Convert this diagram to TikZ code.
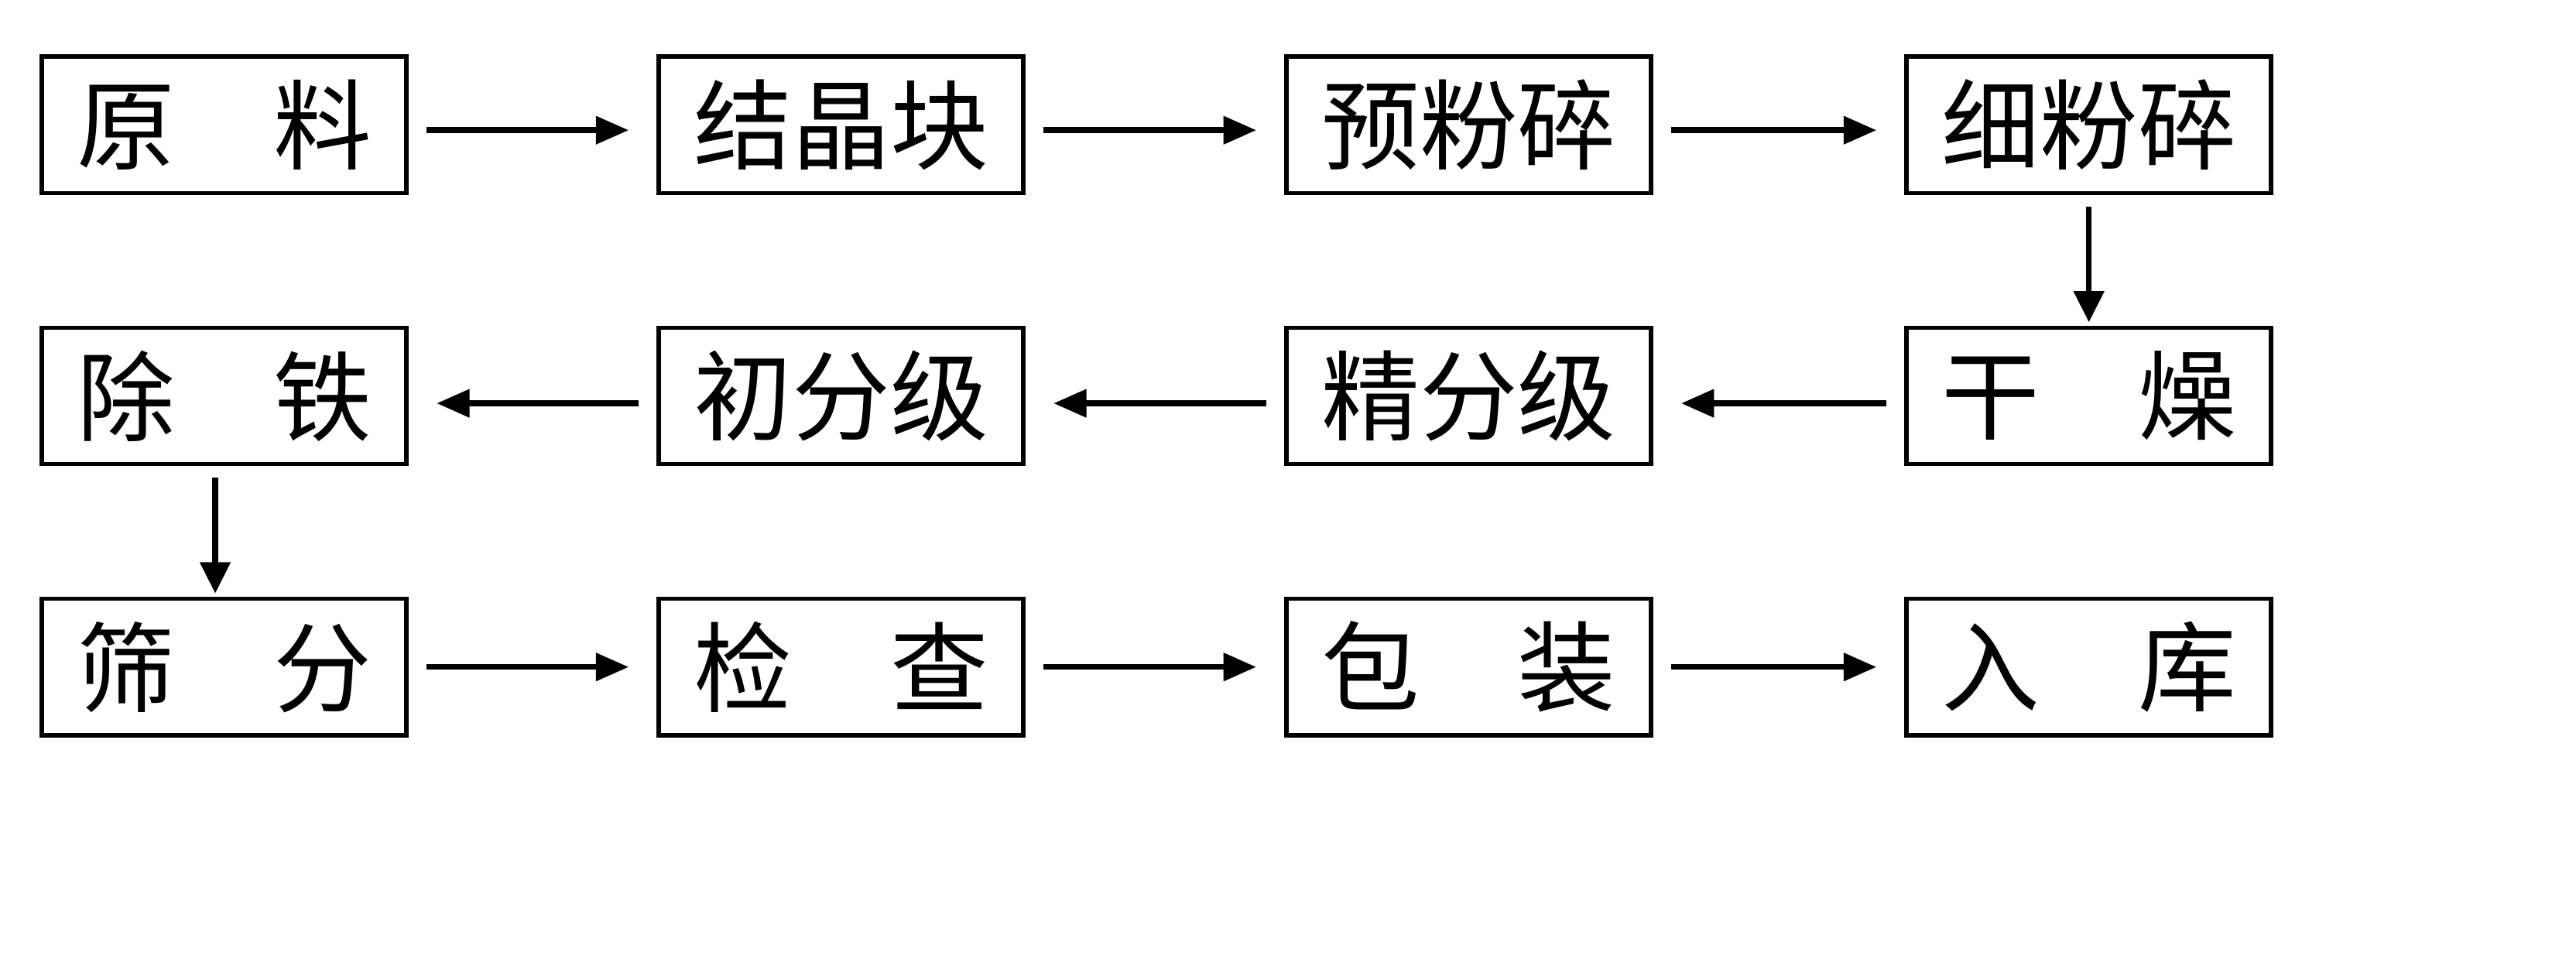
\documentclass[tikz,border=0pt]{standalone}
\usepackage{fontspec}
\newfontfamily\cjk{Noto Sans CJK SC}
\usetikzlibrary{arrows.meta}
\begin{document}
\begin{tikzpicture}[x=0.02cm,y=-0.02cm,
  stepbox/.style={draw=black, line width=1.5pt, minimum width=4.44cm, minimum height=1.66cm,
    inner sep=0pt, font=\cjk\fontsize{34}{40}\selectfont, fill=white},
  harr/.style={line width=2pt, -{Triangle[length=0.4cm,width=0.33cm]}, shorten <=0.22cm, shorten >=0.34cm},
  varr/.style={line width=2pt, -{Triangle[length=0.38cm,width=0.36cm]}, shorten <=0.14cm, shorten >=0.04cm}]
\useasboundingbox[fill=white] (0,0) rectangle (1568,588);
% row 1
\node[stepbox] (a1) at (136.5,76) {原\hspace{1em}料};
\node[stepbox] (a2) at (512,76) {结晶块};
\node[stepbox] (a3) at (894,76) {预粉碎};
\node[stepbox] (a4) at (1271.5,76) {细粉碎};
% row 2
\node[stepbox] (b1) at (136.5,241) {除\hspace{1em}铁};
\node[stepbox] (b2) at (512,241) {初分级};
\node[stepbox] (b3) at (894,241) {精分级};
\node[stepbox] (b4) at (1271.5,241) {干\hspace{1em}燥};
% row 3
\node[stepbox] (c1) at (136.5,406) {筛\hspace{1em}分};
\node[stepbox] (c2) at (512,406) {检\hspace{1em}查};
\node[stepbox] (c3) at (894,406) {包\hspace{1em}装};
\node[stepbox] (c4) at (1271.5,406) {入\hspace{1em}库};
% connectors
\draw[harr, transform canvas={yshift=-0.065cm}] (a1) -- (a2);
\draw[harr, transform canvas={yshift=-0.065cm}] (a2) -- (a3);
\draw[harr, transform canvas={yshift=-0.065cm}] (a3) -- (a4);
\draw[varr] (a4) -- (b4);
\draw[harr, transform canvas={yshift=-0.09cm}] (b4) -- (b3);
\draw[harr, transform canvas={yshift=-0.09cm}] (b3) -- (b2);
\draw[harr, transform canvas={yshift=-0.09cm}] (b2) -- (b1);
\draw[varr] ([xshift=-0.11cm]b1.south) -- ([xshift=-0.11cm]c1.north);
\draw[harr] (c1) -- (c2);
\draw[harr] (c2) -- (c3);
\draw[harr] (c3) -- (c4);
\end{tikzpicture}
\end{document}
